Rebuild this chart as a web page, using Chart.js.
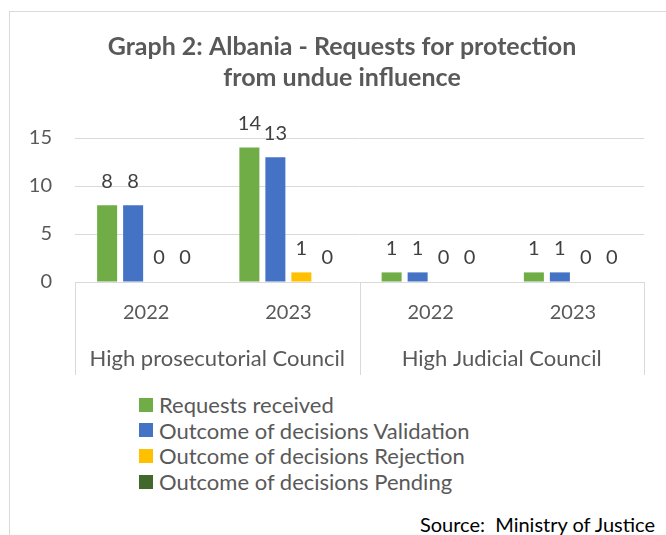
<!DOCTYPE html>
<html><head><meta charset="utf-8">
<script src="https://cdn.jsdelivr.net/npm/chart.js@4.4.1/dist/chart.umd.min.js"></script>
<style>
html,body{margin:0;padding:0;background:#fff;}
#wrap{position:relative;width:666px;height:535px;overflow:hidden;font-family:Lato,sans-serif;}
#frame{position:absolute;left:9px;top:11px;width:700px;height:600px;border-top:1px solid #d9d9d9;border-left:1px solid #d9d9d9;}
#c{position:absolute;left:0;top:0;}
#legend{position:absolute;left:139px;top:392px;}
.item{display:flex;align-items:center;height:25.6px;font-size:22px;color:#595959;}
.box{width:14px;height:14px;margin-right:6px;flex:none;}
#source{position:absolute;right:11px;top:512px;font-size:20px;color:#000;white-space:pre;}
</style></head>
<body>
<div id="wrap">
  <div id="frame"></div>
  <canvas id="c" width="666" height="385"></canvas>
  <div id="legend"></div>
  <div id="source"></div>
</div>
<script>
// ---- data ----
const titleLines = ["Graph 2: Albania - Requests for protection", "from undue influence"];
const categories = ["2022", "2023", "2022", "2023"];
const groups = ["High prosecutorial Council", "High Judicial Council"];
const seriesNames = ["Requests received", "Outcome of decisions Validation", "Outcome of decisions Rejection", "Outcome of decisions Pending"];
const requestsReceived = [8, 14, 1, 1];
const validation = [8, 13, 1, 1];
const rejection = [0, 1, 0, 0];
const pending = [0, 0, 0, 0];
const yTicks = [0, 5, 10, 15];
const sourceText = "Source:  Ministry of Justice";

const seriesColors = ["#70AD47", "#4472C4", "#FFC000", "#43682B"];
const seriesValues = [requestsReceived, validation, rejection, pending];

const FONT = "Lato";

const valueLabels = {
  id: 'valueLabels',
  afterDatasetsDraw(chart) {
    const ctx = chart.ctx;
    ctx.save();
    ctx.font = "20px " + FONT;
    ctx.fillStyle = "#404040";
    ctx.textAlign = "center";
    ctx.textBaseline = "middle";
    chart.data.datasets.forEach((ds, i) => {
      chart.getDatasetMeta(i).data.forEach((bar, j) => {
        ctx.fillText(String(ds.data[j]), bar.x, bar.y - 24);
      });
    });
    ctx.restore();
  }
};

const separators = {
  id: 'separators',
  afterDraw(chart) {
    const x = chart.scales.x, x2 = chart.scales.x2;
    const ctx = chart.ctx;
    const top = chart.chartArea.bottom, bottom = x2.bottom;
    const xs = [x.left, (x.left + x.right) / 2, x.right];
    ctx.save();
    ctx.strokeStyle = "#d9d9d9";
    ctx.lineWidth = 1;
    xs.forEach(px => {
      const p = Math.round(px) + 0.5;
      ctx.beginPath();
      ctx.moveTo(p, top);
      ctx.lineTo(p, bottom);
      ctx.stroke();
    });
    ctx.restore();
  }
};

new Chart(document.getElementById('c'), {
  type: 'bar',
  data: {
    labels: categories,
    datasets: seriesNames.map((n, i) => ({
      label: n,
      data: seriesValues[i],
      backgroundColor: seriesColors[i],
      borderWidth: 0,
      categoryPercentage: 0.731,
      barPercentage: 0.77
    }))
  },
  options: {
    responsive: false,
    animation: false,
    layout: { padding: { left: 18, right: 0, top: 0, bottom: 10 } },
    plugins: {
      legend: { display: false },
      tooltip: { enabled: false },
      title: {
        display: true,
        text: titleLines,
        color: "#595959",
        font: { family: FONT, size: 25, weight: 'bold', lineHeight: 1.24 },
        padding: { top: 31.5, bottom: 44.5 }
      }
    },
    scales: {
      x: {
        position: 'bottom',
        grid: { display: false },
        border: { display: false },
        ticks: { color: "#595959", font: { family: FONT, size: 20 }, padding: 11, maxRotation: 0 },
        afterFit(s) { s.height = 45; }
      },
      x2: {
        type: 'category',
        labels: groups,
        position: 'bottom',
        offset: true,
        grid: { display: false },
        border: { display: false },
        ticks: { color: "#595959", font: { family: FONT, size: 22 }, padding: 11, maxRotation: 0 },
        afterFit(s) { s.height = 48; }
      },
      y: {
        min: yTicks[0],
        max: yTicks[yTicks.length - 1],
        afterBuildTicks(s) { s.ticks = yTicks.map(v => ({ value: v })); },
        grid: { color: "#d9d9d9", drawTicks: false },
        border: { display: false },
        ticks: { color: "#595959", font: { family: FONT, size: 20 }, padding: 23 },
        afterFit(s) { s.width = 57; }
      },
      yR: {
        position: 'right',
        display: true,
        min: 0,
        max: 1,
        grid: { display: false },
        border: { display: false },
        ticks: { display: false },
        afterFit(s) { s.width = 22; }
      }
    }
  },
  plugins: [valueLabels, separators]
});

const legend = document.getElementById('legend');
seriesNames.forEach((n, i) => {
  const it = document.createElement('div');
  it.className = 'item';
  const b = document.createElement('span');
  b.className = 'box';
  b.style.background = seriesColors[i];
  const t = document.createElement('span');
  t.textContent = n;
  it.appendChild(b); it.appendChild(t);
  legend.appendChild(it);
});
document.getElementById('source').textContent = sourceText;
</script>
</body></html>
